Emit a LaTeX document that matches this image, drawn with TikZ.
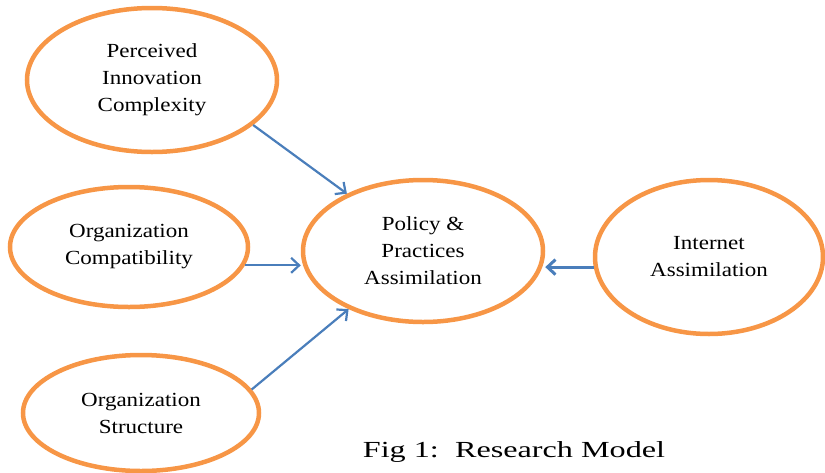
\documentclass[tikz,border=0pt]{standalone}
\usepackage{fontspec}
\setmainfont[FakeStretch=1.15]{Liberation Serif}
\newfontfamily\capfont[FakeStretch=1.4]{Liberation Serif}
\usetikzlibrary{shapes.geometric,arrows.meta}
\definecolor{ringorange}{HTML}{F79646}
\definecolor{linkblue}{HTML}{4A7EBB}
\begin{document}
\begin{tikzpicture}[x=1pt,y=-1pt,
  factor/.style={ellipse, draw=ringorange, line width=4.5pt, fill=white,
    align=center, inner sep=0pt, font=\fontsize{20}{27}\selectfont},
  link/.style={draw=linkblue, line width=2.2pt,
    -{Straight Barb[length=8pt,width=15pt]}},
  thick link/.style={link, line width=3pt}]
\useasboundingbox (0,0) rectangle (825,472);

% factors
\node[factor, minimum width=250pt, minimum height=144pt] (pic) at (152,80)
  {Perceived\\Innovation\\Complexity};
\node[factor, minimum width=238pt, minimum height=120pt] (oc) at (129,247)
  {Organization\\Compatibility};
\node[factor, minimum width=236pt, minimum height=116pt] (os) at (141,413)
  {Organization\\Structure};
\node[factor, minimum width=240pt, minimum height=142pt] (ppa) at (423,251)
  {Policy \&\\Practices\\Assimilation};
\node[factor, minimum width=228pt, minimum height=154pt] (ia) at (709,257)
  {Internet\\Assimilation};

% influences on the central construct
\draw[link] (pic.-24) -- (ppa.143);
\draw[link] (oc.-9) -- (oc.-9 -| ppa.west);
\draw[link] (os.12) -- (ppa.218);
\draw[thick link] (ia.185) -- (ia.185 -| ppa.east);

% caption
\node[anchor=base, font=\capfont\fontsize{23}{27}\selectfont] (cap) at (514,457)
  {Fig 1:\ \ Research Model};
\end{tikzpicture}
\end{document}
